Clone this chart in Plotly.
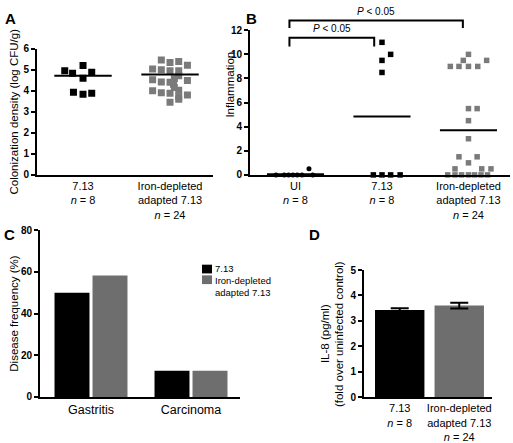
import plotly.graph_objects as go

# ---------------- data ----------------
# Panel A: colonization density (log CFU/g)
a_labels = ["7.13<br><i>n</i> = 8", "Iron-depleted<br>adapted 7.13<br><i>n</i> = 24"]
a_713 = [5.2, 4.95, 4.83, 4.88, 4.6, 3.93, 3.83, 3.88]
a_713_jit = [0.0, -0.21, -0.12, 0.1, 0.0, -0.11, 0.0, 0.1]
a_iron = [5.46, 5.34, 5.39, 5.21, 5.03, 5.0, 4.95, 4.95, 4.52, 4.42, 4.57, 4.49,
          4.31, 4.0, 3.91, 3.88, 4.03, 3.8, 3.72, 3.46, 4.72, 4.4, 4.15, 3.6]
a_iron_jit = [-0.1, 0.0, 0.1, 0.2, -0.2, -0.1, 0.0, 0.1, -0.2, -0.1, 0.05, 0.2,
              0.04, -0.2, -0.1, 0.0, 0.1, 0.2, 0.1, 0.0, 0.1, 0.0, 0.05, 0.1]
a_lines = [4.72, 4.77]

# Panel B: inflammation
b_labels = ["UI<br><i>n</i> = 8", "7.13<br><i>n</i> = 8", "Iron-depleted<br>adapted 7.13<br><i>n</i> = 24"]
b_ui = [0, 0, 0, 0, 0, 0, 0.5, 0]
b_ui_jit = [-0.225, -0.13, -0.08, -0.03, 0.02, 0.075, 0.156, 0.2]
b_713 = [11, 10, 9.5, 8.5, 0, 0, 0, 0]
b_713_jit = [0.0, 0.1, 0.0, 0.0, -0.1, 0.0, 0.1, 0.21]
b_iron = [10, 9.5, 9, 9, 9, 9, 9.5, 5.5, 5.5, 4.5, 3, 1.5, 1.5, 1, 0.5, 0.5, 0.5,
          0, 0, 0, 0, 0, 0, 0]
b_iron_jit = [0.0, -0.06, -0.21, -0.11, 0.0, 0.107, 0.21, 0.0, 0.1, 0.0, 0.0, -0.11,
              0.1, 0.0, -0.156, 0.153, 0.26, -0.24, -0.156, -0.08, 0.0, 0.07, 0.145, 0.22]
b_lines = [0.06, 4.85, 3.7]
b_pvals = ["<i>P</i> < 0.05", "<i>P</i> < 0.05"]

# Panel C: disease frequency (%)
c_cats = ["Gastritis", "Carcinoma"]
c_713 = [50, 12.5]
c_iron = [58.3, 12.5]
c_names = ["7.13", "Iron-depleted<br>adapted 7.13"]

# Panel D: IL-8
d_labels = ["7.13<br><i>n</i> = 8", "Iron-depleted<br>adapted 7.13<br><i>n</i> = 24"]
d_vals = [3.43, 3.60]
d_err = [0.07, 0.11]
d_title = ["IL-8 (pg/ml)", "(fold over uninfected control)"]

# ---------------- layout helpers ----------------
W, H = 513, 443
def fx(p):
    return p / W
def fy(p):
    return 1 - p / H

FONT = "Arial, Liberation Sans, Helvetica, sans-serif"
BLACK = "#000000"
GRAY_PT = "#7a7a7a"
GRAY_BAR = "#6e6e6e"

fig = go.Figure()

# Panel A
fig.add_trace(go.Scatter(x=[0 + j for j in a_713_jit], y=a_713, mode="markers",
                         marker=dict(symbol="square", size=7, color=BLACK),
                         xaxis="x", yaxis="y", showlegend=False))
fig.add_trace(go.Scatter(x=[1 + j for j in a_iron_jit], y=a_iron, mode="markers",
                         marker=dict(symbol="square", size=7, color=GRAY_PT),
                         xaxis="x", yaxis="y", showlegend=False))
for i, m in enumerate(a_lines):
    fig.add_trace(go.Scatter(x=[i - 0.33, i + 0.33], y=[m, m], mode="lines",
                             line=dict(color=BLACK, width=2),
                             xaxis="x", yaxis="y", showlegend=False))

# Panel B
fig.add_trace(go.Scatter(x=[0 + j for j in b_ui_jit], y=b_ui, mode="markers",
                         marker=dict(symbol="circle", size=5, color=BLACK),
                         xaxis="x2", yaxis="y2", showlegend=False, cliponaxis=False))
fig.add_trace(go.Scatter(x=[1 + j for j in b_713_jit], y=b_713, mode="markers",
                         marker=dict(symbol="square", size=5.5, color=BLACK),
                         xaxis="x2", yaxis="y2", showlegend=False, cliponaxis=False))
fig.add_trace(go.Scatter(x=[2 + j for j in b_iron_jit], y=b_iron, mode="markers",
                         marker=dict(symbol="square", size=5.5, color=GRAY_PT),
                         xaxis="x2", yaxis="y2", showlegend=False, cliponaxis=False))
for i, m in enumerate(b_lines):
    fig.add_trace(go.Scatter(x=[i - 0.33, i + 0.33], y=[m, m], mode="lines",
                             line=dict(color=BLACK, width=2),
                             xaxis="x2", yaxis="y2", showlegend=False, cliponaxis=False))

# Panel C
fig.add_trace(go.Bar(x=[0, 1], y=c_713, name=c_names[0], marker=dict(color=BLACK, line=dict(width=0)),
                     xaxis="x3", yaxis="y3", showlegend=False))
fig.add_trace(go.Bar(x=[0, 1], y=c_iron, name=c_names[1], marker=dict(color=GRAY_BAR, line=dict(width=0)),
                     xaxis="x3", yaxis="y3", showlegend=False))

# Panel D
fig.add_trace(go.Bar(x=[0, 1], y=d_vals, width=0.83,
                     marker=dict(color=[BLACK, GRAY_BAR], line=dict(width=0)),
                     error_y=dict(type="data", array=d_err, color=BLACK, thickness=2, width=9),
                     xaxis="x4", yaxis="y4", showlegend=False))

# axes
dom_a_x = [fx(37), fx(213)]
dom_a_y = [fy(174), fy(44)]
dom_b_x = [fx(250), fx(510)]
dom_b_y = [fy(174), fy(25)]
dom_c_x = [fx(40), fx(240)]
dom_c_y = [fy(402.7), fy(231)]
dom_d_x = [fx(364), fx(492)]
dom_d_y = [fy(403), fy(272)]

def yax(domain, rng, dtick, anchor, title, standoff):
    return dict(domain=domain, range=rng, dtick=dtick, tick0=0, anchor=anchor,
                showline=True, linecolor=BLACK, linewidth=2, mirror=False,
                ticks="outside", ticklen=4, tickwidth=2, tickcolor=BLACK,
                showgrid=False, zeroline=False,
                tickfont=dict(family=FONT, size=10, color=BLACK, weight="bold"),
                title=dict(text=title, font=dict(family=FONT, size=11.5, color=BLACK), standoff=standoff))

def xax(domain, rng, vals, labels, anchor, size=11):
    return dict(domain=domain, range=rng, anchor=anchor, tickmode="array",
                tickvals=vals, ticktext=labels,
                showline=True, linecolor=BLACK, linewidth=2,
                ticks="", showgrid=False, zeroline=False,
                tickfont=dict(family=FONT, size=size, color=BLACK))

fig.update_layout(
    width=W, height=H,
    margin=dict(l=0, r=0, t=0, b=0),
    paper_bgcolor="white", plot_bgcolor="white",
    font=dict(family=FONT, color=BLACK),
    barmode="group", bargap=0.24, bargroupgap=0.08,
    showlegend=False,
    xaxis=xax(dom_a_x, [-0.529, 1.494], [0, 1], a_labels, "y"),
    yaxis=yax(dom_a_y, [0, 6], 1, "x", "Colonization density (log CFU/g)", 2),
    xaxis2=xax(dom_b_x, [-0.526, 2.48], [0, 1, 2], b_labels, "y2"),
    yaxis2=yax(dom_b_y, [0, 12], 2, "x2", "", 3),
    xaxis3=xax(dom_c_x, [-0.51, 1.49], [0, 1], c_cats, "y3", size=12.5),
    yaxis3=yax(dom_c_y, [0, 80], 20, "x3", "Disease frequency (%)", 0),
    xaxis4=xax(dom_d_x, [-0.6, 1.55], [0, 1], d_labels, "y4"),
    yaxis4=yax(dom_d_y, [0, 5], 1, "x4", "", 3),
)

# axis titles placed as in the figure
fig.add_annotation(x=fx(230), y=fy(81), xref="paper", yref="paper", text="Inflammation",
                   textangle=-90, showarrow=False, xanchor="center", yanchor="middle",
                   font=dict(family=FONT, size=11.5, color=BLACK))
for line_text, px in zip(d_title, [325, 339]):
    fig.add_annotation(x=fx(px), y=fy(338), xref="paper", yref="paper", text=line_text,
                       textangle=-90, showarrow=False, xanchor="center", yanchor="middle",
                       font=dict(family=FONT, size=11.5, color=BLACK))

# significance brackets for panel B (y in data units converted to paper)
def by(v):
    return dom_b_y[0] + v / 12 * (dom_b_y[1] - dom_b_y[0])

brackets = [  # (x start, x end, top level, leg level, label index)
    (-0.07, 1.0 - 0.09, 11.37, 10.66, 0),
    (-0.07, 2.0 - 0.065, 12.82, 12.18, 1),
]
for x0, x1, top, leg, k in brackets:
    fig.add_shape(type="path", xref="x2", yref="paper",
                  path=f"M {x0},{by(leg)} L {x0},{by(top)} L {x1},{by(top)} L {x1},{by(leg)}",
                  line=dict(color=BLACK, width=2))
    fig.add_annotation(x=(x0 + x1) / 2, y=by(top) + 0.004, xref="x2", yref="paper",
                       text=b_pvals[k], showarrow=False, yanchor="bottom",
                       font=dict(family=FONT, size=10, color=BLACK))

# legend for panel C (compact, drawn as swatches + labels)
legend_items = [(c_names[0], BLACK, 266.5, 270), (c_names[1], GRAY_BAR, 277.5, 288.5)]
for name, col, top_px, text_px in legend_items:
    fig.add_shape(type="rect", xref="paper", yref="paper",
                  x0=fx(202), x1=fx(212), y0=fy(top_px + 9), y1=fy(top_px),
                  fillcolor=col, line=dict(width=0))
    fig.add_annotation(x=fx(214), y=fy(text_px), xref="paper", yref="paper", text=name,
                       showarrow=False, xanchor="left", yanchor="middle", align="left",
                       borderpad=0, font=dict(family=FONT, size=9.5, color=BLACK))

# panel letters
for letter, px, py in [("A", 3, 2), ("B", 244, 2), ("C", 2, 225), ("D", 307, 225)]:
    fig.add_annotation(x=fx(px), y=fy(py), xref="paper", yref="paper", text=f"<b>{letter}</b>",
                       showarrow=False, xanchor="left", yanchor="top",
                       font=dict(family=FONT, size=15, color=BLACK))

fig.write_html("out.html", config={"displayModeBar": False},
               post_script="document.body.style.margin='0';document.body.style.overflow='hidden';")
